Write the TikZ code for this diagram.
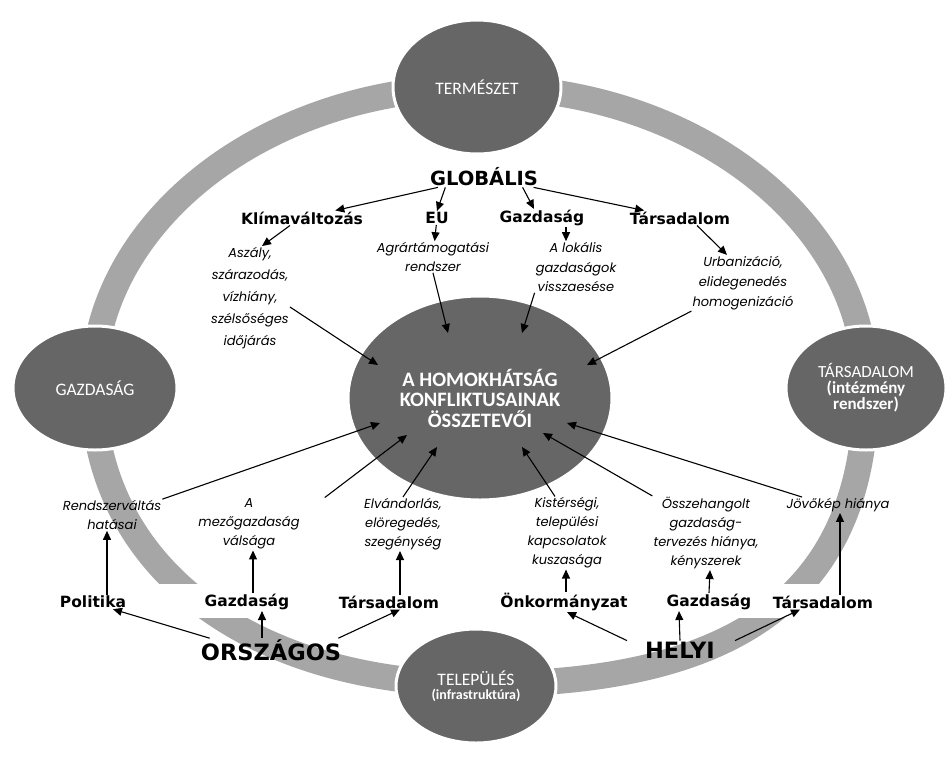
\documentclass[tikz,border=0pt]{standalone}
\usepackage{fontspec}
\setmainfont{Carlito}
\newfontfamily\headfont{DejaVu Sans}
\newfontfamily\notefont{Poppins}
\usetikzlibrary{shapes.geometric,arrows.meta,calc}

\begin{document}
\begin{tikzpicture}[x=1pt,y=-1pt,
  ball/.style={ellipse,fill=darkgrey,draw=white,line width=3pt,text=white,inner sep=0pt,align=center},
  head/.style={font=\headfont\bfseries\fontsize{15.5}{17}\selectfont,inner sep=1pt},
  big/.style={font=\headfont\bfseries\fontsize{22.5}{24}\selectfont,inner sep=1pt},
  note/.style={font=\notefont\itshape\fontsize{13}{19}\selectfont,align=center,inner sep=1pt},
  arr/.style={-{Triangle[length=9pt,width=8pt]},line width=1.1pt}]
\definecolor{darkgrey}{HTML}{666666}
\definecolor{ringgrey}{HTML}{A6A6A6}
\fill[white] (0,0) rectangle (951,761);
\useasboundingbox (0,0) rectangle (951,761);
% ring: upper half elliptic, lower half a little squarer
\draw[ringgrey,line width=26pt] (93,387) arc[start angle=180,end angle=360,x radius=386.5,y radius=300]
  .. controls (866,591) and (742,684) .. (480,684)
  .. controls (248,684) and (93,565) .. (93,387);
% white strip behind the row of labels
\fill[white] (20,584) rectangle (930,618);
\node[ball,minimum width=168pt,minimum height=134pt,font=\fontsize{17.5}{19}\selectfont] (nature) at (477,87) {TERMÉSZET};
\node[ball,minimum width=164pt,minimum height=124pt,font=\fontsize{17.5}{19}\selectfont] (economy) at (95,388) {GAZDASÁG};
\node[ball,minimum width=160pt,minimum height=124pt,font=\fontsize{17}{17}\selectfont] (society) at (866,388)
  {TÁRSADALOM\\[-1pt]\textbf{(intézmény}\\[-1pt]\textbf{rendszer)}};
\node[ball,minimum width=160pt,minimum height=114pt,font=\fontsize{17.5}{17}\selectfont] (village) at (476,686)
  {TELEPÜLÉS\\[-3pt]{\bfseries\fontsize{14}{15}\selectfont(infrastruktúra)}};
\node[ball,minimum width=264pt,minimum height=204pt,font=\bfseries\fontsize{20.5}{20.5}\selectfont] (core) at (480,398)
  {A HOMOKHÁTSÁG\\KONFLIKTUSAINAK\\ÖSSZETEVŐI};

% global level
\node[big,font=\headfont\bfseries\fontsize{19.5}{21}\selectfont] (glob) at (484,177) {GLOBÁLIS};
\node[head] (klima) at (302,218) {Klímaváltozás};
\node[head] (eu) at (437,218) {EU};
\node[head] (gazd) at (542,218) {Gazdaság};
\node[head] (tars) at (680,218) {Társadalom};
\node[note,font=\notefont\itshape\fontsize{13}{22}\selectfont] (aszaly) at (250,298) {Aszály,\\szárazodás,\\vízhiány,\\szélsőséges\\időjárás};
\node[note] (agrar) at (433,257) {Agrártámogatási\\rendszer};
\node[note,font=\notefont\itshape\fontsize{13}{19.5}\selectfont] (lokalis) at (576,267) {A lokális\\gazdaságok\\visszaesése};
\node[note,font=\notefont\itshape\fontsize{13}{20}\selectfont] (urban) at (743,283) {Urbanizáció,\\elidegenedés\\homogenizáció};

% national and local level
\node[note] (rendszer) at (112,515) {Rendszerváltás\\hatásai};
\node[note] (mezo) at (249,524) {A\\mezőgazdaság\\válsága};
\node[note] (elvand) at (403,524) {Elvándorlás,\\elöregedés,\\szegénység};
\node[note] (kister) at (567,533) {Kistérségi,\\települési\\kapcsolatok\\kuszasága};
\node[note] (osszeh) at (706,533) {Összehangolt\\gazdaság-\\tervezés hiánya,\\kényszerek};
\node[note] (jovokep) at (838,505) {Jövőkép hiánya};
\node[head] (polit) at (93,602) {Politika};
\node[head] (gazdB) at (247,602) {Gazdaság};
\node[head] (tarsB) at (389,602) {Társadalom};
\node[head] (onk) at (564,602) {Önkormányzat};
\node[head] (gazdH) at (709,602) {Gazdaság};
\node[head] (tarsH) at (823,602) {Társadalom};
\node[big] (orsz) at (271,650) {ORSZÁGOS};
\node[big] (helyi) at (680,650) {HELYI};

% connectors
\draw[arr] (glob) -- (klima);
\draw[arr] ($(glob.south west)!.3!(glob.south)$) -- (eu.north);
\draw[arr] ($(glob.south)!.7!(glob.south east)$) -- ([xshift=-8pt]gazd.north);
\draw[arr] (glob) -- (tars);
\draw[arr] (eu) -- (agrar);
\draw[arr] ([xshift=24pt]gazd.south) -- ([xshift=-10pt]lokalis.north);
\draw[arr] ([xshift=-12pt]klima.south) -- ([xshift=12pt]aszaly.north);
\draw[arr] ([xshift=17pt]tars.south) -- ([xshift=-16pt]urban.north);
\foreach \src/\sx/\sy/\dx/\dy in {aszaly.east/0/9/-102/-33, agrar.south/0/0/-32/-65,
  lokalis.south west/0/0/42/-65, urban.south west/0/0/107/-33,
  rendszer.north east/0/0/-100/25, mezo.north east/24/0/-73/37, elvand.north/0/0/-43/49,
  kister.north/-12/0/42/49, osszeh.north west/0/0/63/35, jovokep.north/-36/0/87/25}
  {\draw[arr] ([shift={(\sx,\sy)}]\src) -- ([shift={(\dx,\dy)}]core.center);}
\draw[arr] ([xshift=14pt]polit.north) -- ([xshift=-5pt]rendszer.south);
\draw[arr] ([xshift=6pt]gazdB.north) -- ([xshift=4pt]mezo.south);
\draw[arr] ([xshift=11pt]tarsB.north) -- ([xshift=-3pt]elvand.south);
\draw[arr] ([xshift=2pt]onk.north) -- ([xshift=-1pt]kister.south);
\draw[arr] (gazdH.north) -- ([xshift=4pt]osszeh.south);
\draw[arr] ([xshift=17pt]tarsH.north) -- ([xshift=2pt]jovokep.south);
\draw[arr] ([xshift=10pt]orsz.north west) -- ([xshift=20pt]polit.south);
\draw[arr] ([xshift=-9pt]orsz.north) -- ([xshift=15pt]gazdB.south);
\draw[arr] ([xshift=-4pt]orsz.north east) -- ([xshift=11pt]tarsB.south);
\draw[arr] ([xshift=-53pt]helyi.north) -- ([xshift=3pt]onk.south);
\draw[arr] (helyi.north) -- ([xshift=-30pt]gazdH.south);
\draw[arr] ([xshift=55pt]helyi.north) -- ([xshift=-23pt]tarsH.south);
\end{tikzpicture}
\end{document}
